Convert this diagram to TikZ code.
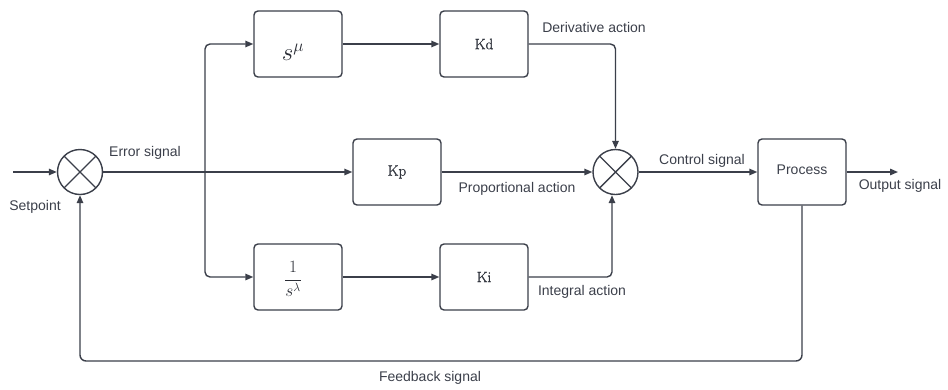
\documentclass[tikz,border=0pt]{standalone}
\usepackage{fontspec}
\setmainfont{Liberation Sans}
\newfontfamily\gainfont[FakeBold=1.5]{Latin Modern Roman}
\usetikzlibrary{arrows.meta}
\definecolor{ink}{HTML}{3B3F4A}
\tikzset{
  x=1pt, y=-1pt,
  wire/.style={draw=ink, line width=1.4pt, -{Triangle[length=8pt,width=6.5pt]}},
  plainwire/.style={draw=ink, line width=1.4pt},
  block/.style={draw=ink, line width=1.4pt, rounded corners=4pt, minimum width=88pt, minimum height=66pt, inner sep=0pt},
  summer/.style={draw=ink, line width=1.4pt, circle, minimum size=45pt, inner sep=0pt,
    path picture={\draw[ink, line width=1.4pt]
      (path picture bounding box.north west) -- (path picture bounding box.south east)
      (path picture bounding box.north east) -- (path picture bounding box.south west);}},
  lbl/.style={text=ink, font=\fontsize{14}{16}\selectfont, inner sep=0pt},
  gain/.style={text=ink!85!black, font=\gainfont\fontsize{15}{17}\selectfont},
  formula/.style={text=ink!70!black}
}
\begin{document}
\begin{tikzpicture}
\useasboundingbox (0,0) rectangle (948,389);

% summing junctions
\node[summer] (sumA) at (80,172) {};
\node[summer] (sumB) at (615.5,172) {};

% blocks
\node[block] (dfrac) at (298,44) {};
\node[formula] at (293,52) {\fontsize{24}{26}\selectfont$s^{\mu}$};
\node[block] (kd) at (484,44) {};
\node[gain] at (kd) {Kd};
\node[block] (kp) at (397,172) {};
\node[gain] at (kp) {Kp};
\node[block] (ifrac) at (298,277) {};
\node[formula] at (293,279) {\fontsize{18}{20}\selectfont$\displaystyle\frac{1}{s^{\lambda}}$};
\node[block] (ki) at (484,277) {};
\node[gain] at (ki) {Ki};
\node[block] (proc) at (802,172) {};
\node[lbl] at (proc.center) [yshift=2pt] {Process};

% free ends and branch points
\coordinate (inp) at (13,172);
\coordinate (outp) at (898,172);
\coordinate (branch) at (205,172);
\coordinate (fbk) at (802,361);

% forward paths
\draw[wire] (inp) -- (sumA.west);
\draw[plainwire] (sumA.east) -- (branch);
\draw[wire] (branch) -- (kp.west);
\draw[wire, rounded corners=5pt] (branch) |- (dfrac.west);
\draw[wire, rounded corners=5pt] (branch) |- (ifrac.west);
\draw[wire] (dfrac.east) -- (kd.west);
\draw[wire] (ifrac.east) -- (ki.west);
\draw[wire, rounded corners=5pt] (kd.east) -| (sumB.north);
\draw[wire] (kp.east) -- (sumB.west);
\draw[wire, rounded corners=5pt] (ki.east) -| ([xshift=-3.5pt]sumB.south);
\draw[wire] (sumB.east) -- (proc.west);
\draw[wire] (proc.east) -- (outp);

% feedback loop
\draw[wire, rounded corners=6pt] (proc.south) -- (fbk) -| (sumA.south);

% labels
\node[lbl] at (35,207) {Setpoint};
\node[lbl] at (145,153) {Error signal};
\node[lbl] at (594,27) {Derivative action};
\node[lbl] at (517,189) {Proportional action};
\node[lbl] at (582,292) {Integral action};
\node[lbl] at (702,161) {Control signal};
\node[lbl] at (900,186) {Output signal};
\node[lbl] at (430,378) {Feedback signal};
\end{tikzpicture}
\end{document}
